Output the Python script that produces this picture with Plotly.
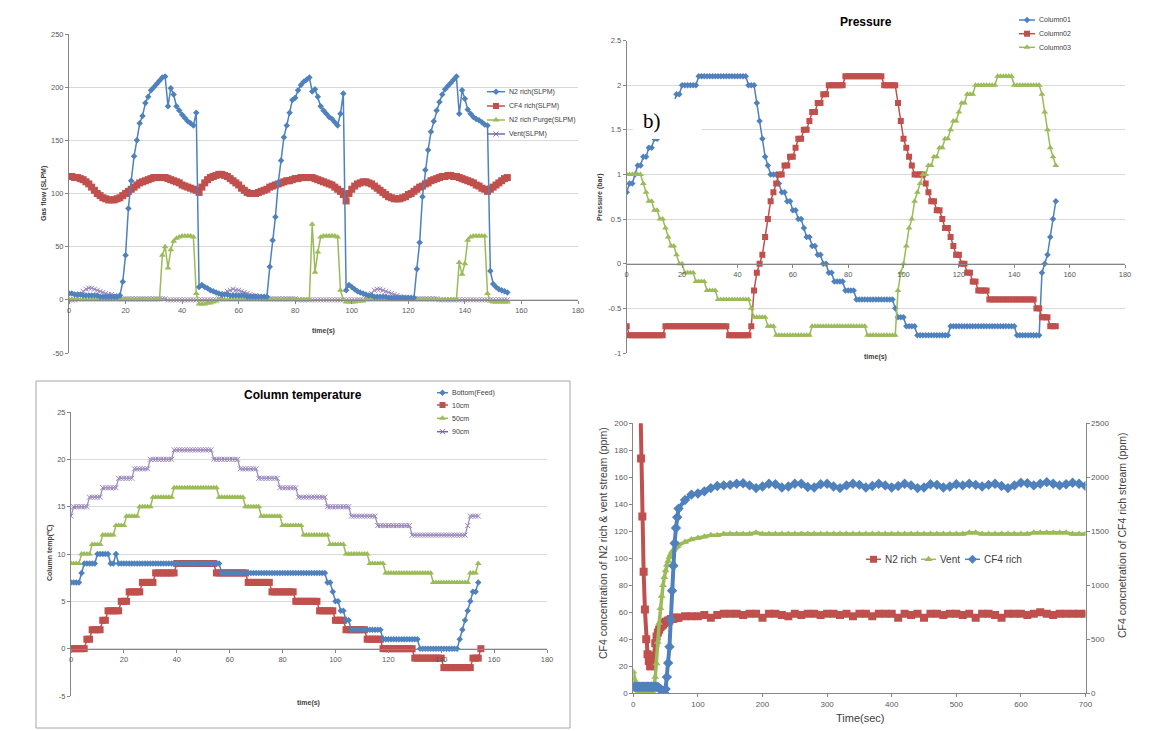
import plotly.graph_objects as go

W, H = 1171, 731
FONT = "Liberation Sans"
BLUE, RED, GREEN, PURPLE = "#4F81BD", "#C0504D", "#9BBB59", "#8064A2"

# ---------------- Panel 1: Gas flow (SLPM), t = 0..155 s ----------------
flow_time = list(range(156))
n2_rich = [6, 6, 5, 5, 5, 4, 4, 4, 4, 4, 4, 3, 3, 3, 3, 3, 3, 3,
           4, 17, 42, 86, 112, 135, 150, 166, 173, 185, 191, 197, 200, 203, 206, 209, 210, 182,
           199, 193, 182, 178, 174, 171, 168, 166, 164, 176,
           12, 14, 12, 11, 9, 8, 7, 6, 5, 5, 5, 4, 4, 4, 4, 4, 4, 3, 3, 3, 3, 3, 3, 3, 3,
           31, 56, 78, 110, 131, 153, 164, 176, 188, 190, 197, 202, 205, 207, 209, 196, 198, 191,
           182, 178, 175, 172, 170, 167, 164, 175, 194,
           9, 14, 12, 10, 8, 7, 6, 5, 4, 4, 3, 3, 3, 3, 3, 2, 2, 2, 2, 2, 2, 2, 2, 2, 2,
           29, 54, 97, 122, 141, 158, 168, 178, 186, 193, 198, 201, 204, 207, 210, 175, 197, 189,
           179, 175, 172, 170, 169, 167, 165, 164, 27, 15, 12, 10, 9, 8, 7]
cf4_rich = [116, 116, 115, 115, 114, 113, 111, 109, 106, 103, 100, 98, 96, 95, 94,
            94, 94, 95, 96, 98, 100, 102, 104, 106, 108, 110, 111, 112, 113, 114, 115, 115, 115,
            115, 115, 114, 113, 112, 111, 110, 108, 107, 106, 105, 104, 103, 101,
            106, 110, 113, 115, 116, 117, 118, 118,
            117, 116, 114, 112, 110, 108, 105, 103, 101, 100, 100,
            100, 101, 102, 103, 104, 106, 107, 108, 109, 110, 111, 112, 112, 113, 114, 114, 115, 115,
            115, 115, 115, 114, 113, 112, 111, 110, 109, 108, 106, 104, 102, 99, 93,
            100, 104, 107, 109, 110, 111, 111, 110,
            109, 107, 105, 103, 101, 99, 97, 96, 95, 95,
            95, 96, 97, 99, 100, 102, 104, 106, 107, 109, 110, 112, 113, 114, 115, 116, 116, 117, 117,
            116, 116, 115, 114, 113, 112, 111, 110, 108, 107, 105, 104, 102,
            104, 106, 108, 110, 112, 114, 115]
n2_purge = [0, 0, 0, 0, 0, 0, 0, 0, 0, 0, 0, 0, 0, 0, 0, 0, 0, 0, 0, 0, 0, 0, 0, 0, 0, 0, 0, 0, 0, 0, 0, 0, 0,
            42, 50, 30, 47, 55, 58, 59, 60, 60, 60, 60, 59, 6, -4, -4, -4, -3, -3, -2, -1,
            0, 0, 0, 0, 0, 0, 0, 0, 0, 0, 0, 0, 0, 0, 0, 0, 0, 0, 0, 0, 0, 0, 0, 0, 0, 0, 0, 0, 0, 0, 0, 0, 0,
            71, 26, 45, 59, 60, 60, 60, 60, 60, 59, 9, 0, -2, -2, -2, -2, -1, -1, -1,
            0, 0, 0, 0, 0, 0, 0, 0, 0, 0, 0, 0, 0, 0, 0, 0, 0, 0, 0, 0, 0, 0, 0, 0, 0, 0, 0, 0, 0, 0, 0, 0, 0,
            35, 24, 34, 56, 59, 60, 60, 60, 60, 60, 6, -1, -2, -2, -2, -2, -2, -2]
vent = [0, 0, 0,
        2, 5, 8, 10, 11, 11, 10, 9, 8, 7, 6, 5, 5, 4, 3, 2, 1,
        1, 1, 1, 1, 1, 1, 1, 1, 1, 1, 1, 1, 1, 1, 1,
        0, 0, 0, 0, 0, 0, 0, 0, 0, 0, 0, 0, 0, 0, 0, 0, 0, 0,
        1, 3, 6, 8, 9, 10, 9, 9, 8, 7, 6, 5, 4, 4, 3, 2, 1, 1,
        1, 1, 1, 1, 1, 1, 1, 1, 1, 1,
        0, 0, 0, 0, 0, 0, 0, 0, 0, 0, 0, 0, 0, 0, 0, 0, 0, 0, 0, 0, 0, 0, 0, 0,
        1, 3, 6, 9, 10, 10, 9, 8, 7, 6, 5, 4, 3, 2, 2, 1,
        1, 1, 1, 1, 1, 1, 1, 1, 1, 1,
        0, 0, 0, 0, 0, 0, 0, 0, 0, 0, 0, 0, 0, 0, 0, 0, 0, 0, 0, 0, 0, 0, 0, 0, 0]

# ---------------- Panel 2: Pressure (bar), step runs (value, seconds) ----------------
column01_runs = [(0.8, 1), (0.9, 2), (1.0, 1), (1.1, 2), (1.2, 2), (1.3, 2), (1.4, 2), (1.5, 2), (1.6, 2),
                 (1.7, 1), (1.8, 1), (1.9, 2), (2.0, 6), (2.1, 18), (2.0, 3), (1.8, 1), (1.6, 1), (1.4, 1),
                 (1.2, 1), (1.1, 1), (1.0, 3), (0.9, 1), (0.8, 2), (0.7, 2), (0.6, 2), (0.5, 2), (0.4, 1),
                 (0.3, 2), (0.2, 2), (0.1, 2), (0.0, 2), (-0.1, 2), (-0.2, 4), (-0.3, 4), (-0.4, 14),
                 (-0.5, 1), (-0.6, 3), (-0.7, 4), (-0.8, 12), (-0.7, 24), (-0.8, 9), (-0.1, 1), (0.0, 1),
                 (0.1, 1), (0.3, 1), (0.5, 1), (0.7, 1)]
column02_runs = [(-0.7, 1), (-0.8, 13), (-0.7, 23), (-0.8, 8), (-0.7, 1), (-0.3, 1), (-0.1, 1), (0.0, 1),
                 (0.1, 1), (0.3, 1), (0.5, 1), (0.7, 1), (0.8, 1), (0.9, 1), (1.0, 2), (1.1, 2), (1.2, 2),
                 (1.3, 1), (1.4, 2), (1.5, 2), (1.6, 1), (1.7, 2), (1.8, 2), (1.9, 2), (2.0, 6), (2.1, 14),
                 (2.0, 5), (1.8, 1), (1.6, 1), (1.4, 1), (1.3, 1), (1.2, 1), (1.1, 1), (1.0, 4), (0.9, 1),
                 (0.8, 1), (0.7, 2), (0.6, 2), (0.5, 1), (0.4, 2), (0.3, 1), (0.2, 1), (0.1, 2), (0.0, 2),
                 (-0.1, 2), (-0.2, 2), (-0.3, 4), (-0.4, 17), (-0.5, 2), (-0.6, 3), (-0.7, 3)]
column03_runs = [(1.0, 6), (0.9, 1), (0.8, 1), (0.7, 2), (0.6, 2), (0.5, 2), (0.4, 1), (0.3, 1), (0.2, 2),
                 (0.1, 1), (0.0, 2), (-0.1, 4), (-0.2, 4), (-0.3, 4), (-0.4, 12), (-0.5, 1), (-0.6, 5),
                 (-0.7, 3), (-0.8, 13), (-0.7, 20), (-0.8, 11), (-0.3, 1), (-0.1, 1), (0.0, 1), (0.2, 1),
                 (0.4, 1), (0.5, 1), (0.7, 1), (0.8, 1), (0.9, 1), (1.0, 2), (1.1, 2), (1.2, 2), (1.3, 2),
                 (1.4, 2), (1.5, 1), (1.6, 2), (1.7, 1), (1.8, 2), (1.9, 3), (2.0, 8), (2.1, 6), (2.0, 10),
                 (1.9, 1), (1.7, 1), (1.5, 1), (1.3, 1), (1.2, 1), (1.1, 1)]

# ---------------- Panel 3: Column temperature (C), step runs ----------------
bottom_feed_runs = [(7, 4), (8, 1), (9, 5), (10, 5), (9, 2), (10, 1), (9, 39), (8, 40), (7, 2), (6, 1),
                    (5, 2), (4, 2), (3, 2), (2, 12), (1, 14), (0, 15), (1, 1), (2, 1), (3, 1), (4, 1),
                    (5, 1), (6, 2), (7, 1)]
cm10_runs = [(0, 6), (1, 2), (2, 4), (3, 2), (4, 5), (5, 3), (6, 5), (7, 5), (8, 8), (9, 15), (8, 12),
             (7, 9), (6, 9), (5, 9), (4, 6), (3, 4), (2, 8), (1, 6), (0, 12), (-1, 11), (-2, 11), (-1, 3),
             (0, 1)]
cm50_runs = [(9, 4), (10, 4), (11, 4), (12, 5), (13, 4), (14, 5), (15, 5), (16, 8), (17, 17), (16, 10),
             (15, 6), (14, 8), (13, 8), (12, 10), (11, 6), (10, 9), (9, 6), (8, 18), (7, 14), (8, 3), (9, 1)]
cm90_runs = [(14, 1), (15, 6), (16, 5), (17, 6), (18, 6), (19, 6), (20, 9), (21, 15), (20, 10), (19, 7),
             (18, 8), (17, 7), (16, 11), (15, 9), (14, 10), (13, 13), (12, 21), (13, 1), (14, 4)]

# ---------------- Panel 4: CF4 concentration (ppm) vs time (sec) ----------------
conc_time = list(range(0, 72, 2)) + list(range(80, 710, 10))
conc_n2_rich = [260, 260, 260, 260, 260, 240, 174, 131, 90, 62, 40, 29, 24, 20, 20, 23, 28, 37, 42, 45,
                47, 49, 50, 51, 52, 53, 53, 54, 54, 55, 55, 55, 56, 56, 56, 56,
                57, 57, 57, 58, 56, 58, 59, 59, 59, 58, 59, 59, 56, 59, 59, 58, 57, 59, 58, 59,
                59, 58, 59, 59, 58, 59, 57, 59, 59, 57, 59, 59, 59, 56, 59, 58, 59, 56, 59, 59,
                58, 59, 59, 58, 59, 56, 59, 59, 58, 56, 59, 59, 59, 58, 59, 60, 59, 58, 59, 59,
                59, 59, 59]
conc_vent = [16, 10, 5, 2, 1, 0, 0, 0, 0, 0, 0, 0, 0, 0, 0, 1, 4, 12, 22, 38, 52, 63, 72, 80, 86, 91,
             95, 98, 101, 103, 105, 106, 107, 108, 109, 110,
             112, 114, 115, 116, 117, 117, 118, 118, 118, 118, 118, 119, 118, 118, 118, 118, 118, 118,
             118, 118, 118, 118, 118, 118, 118, 118, 118, 118, 118, 118, 118, 118, 118, 118, 118, 118,
             118, 118, 118, 118, 118, 118, 118, 118, 119, 119, 118, 118, 118, 118, 118, 118, 118, 118,
             119, 119, 119, 119, 119, 119, 118, 118, 118]
conc_cf4_rich = [62, 62, 61, 61, 61, 61, 60, 60, 60, 60, 60, 60, 60, 60, 60, 60, 60, 60,
                 60, 58, 50, 40, 25, 12, 3, 40, 150, 280, 430, 680, 950, 1180, 1390, 1530, 1630, 1710,
                 1790, 1840, 1850, 1870, 1900, 1920, 1925, 1930, 1940, 1945, 1925, 1900, 1915, 1940, 1935,
                 1905, 1915, 1940, 1940, 1910, 1905, 1935, 1940, 1915, 1900, 1925, 1940, 1930, 1905, 1920,
                 1940, 1925, 1905, 1920, 1940, 1925, 1900, 1905, 1935, 1930, 1905, 1915, 1935, 1925, 1940,
                 1930, 1915, 1930, 1940, 1920, 1900, 1925, 1950, 1945, 1925, 1940, 1955, 1940, 1925, 1935,
                 1950, 1940, 1920]


def expand(runs):
    out = []
    for v, n in runs:
        out += [v] * n
    return out


def X(p):
    return p / W


def Y(p):
    return 1 - p / H


def series(x, y, color, symbol, size, xa, ya, lw=1.5, name=None):
    if symbol.startswith("x-thin"):
        mk = dict(symbol=symbol, size=size, color=color, line=dict(color=color, width=1))
    else:
        mk = dict(symbol=symbol, size=size, color=color, line=dict(width=0))
    return go.Scatter(x=x, y=y, mode="lines+markers", name=name, line=dict(color=color, width=lw),
                      marker=mk, xaxis=xa, yaxis=ya, showlegend=False, cliponaxis=True)


fig = go.Figure()

# Panel 1
fig.add_trace(series(flow_time, vent, "#9A86BC", "x-thin", 5, "x", "y", 1.2, "Vent(SLPM)"))
fig.add_trace(series(flow_time, n2_purge, GREEN, "triangle-up", 6, "x", "y", 1.5, "N2 rich Purge(SLPM)"))
fig.add_trace(series(flow_time, cf4_rich, RED, "square", 7, "x", "y", 1.5, "CF4 rich(SLPM)"))
fig.add_trace(series(flow_time, n2_rich, BLUE, "diamond", 5, "x", "y", 1.5, "N2 rich(SLPM)"))

# Panel 2
c1, c2, c3 = expand(column01_runs), expand(column02_runs), expand(column03_runs)
fig.add_trace(series(list(range(len(c1))), c1, BLUE, "diamond", 5, "x2", "y2", 1.5, "Column01"))
fig.add_trace(series(list(range(len(c2))), c2, RED, "square", 6, "x2", "y2", 1.5, "Column02"))
fig.add_trace(series(list(range(len(c3))), c3, GREEN, "triangle-up", 6, "x2", "y2", 1.5, "Column03"))

# Panel 3
b, r10, g50, p90 = expand(bottom_feed_runs), expand(cm10_runs), expand(cm50_runs), expand(cm90_runs)
fig.add_trace(series(list(range(len(p90))), p90, "#9A86BC", "x-thin", 5, "x3", "y3", 1.2, "90cm"))
fig.add_trace(series(list(range(len(g50))), g50, GREEN, "triangle-up", 6, "x3", "y3", 1.5, "50cm"))
fig.add_trace(series(list(range(len(r10))), r10, RED, "square", 7, "x3", "y3", 1.5, "10cm"))
fig.add_trace(series(list(range(len(b))), b, BLUE, "diamond", 5, "x3", "y3", 1.5, "Bottom(Feed)"))

# Panel 4
fig.add_trace(series(conc_time, conc_n2_rich, RED, "square", 8, "x4", "y4", 4, "N2 rich"))
fig.add_trace(series(conc_time, conc_vent, GREEN, "triangle-up", 7, "x4", "y4", 3.5, "Vent"))
fig.add_trace(series(conc_time, conc_cf4_rich, BLUE, "diamond", 8, "x4", "y6", 4, "CF4 rich"))

# Custom legends drawn on a pixel overlay axis
legend_items = [
    (487, 505, 91.7, BLUE, "diamond", 5, "N2 rich(SLPM)", 7),
    (487, 505, 106, RED, "square", 6, "CF4 rich(SLPM)", 7),
    (487, 505, 120, GREEN, "triangle-up", 6, "N2 rich Purge(SLPM)", 7),
    (487, 505, 134, "#7D64A8", "x-thin", 5, "Vent(SLPM)", 7),
    (1019, 1035, 20, BLUE, "diamond", 5, "Column01", 7),
    (1019, 1035, 33.7, RED, "square", 6, "Column02", 7),
    (1019, 1035, 47.3, GREEN, "triangle-up", 6, "Column03", 7),
    (437, 448, 392.7, BLUE, "diamond", 5, "Bottom(Feed)", 7),
    (437, 448, 405, RED, "square", 6, "10cm", 7),
    (437, 448, 418.3, GREEN, "triangle-up", 6, "50cm", 7),
    (437, 448, 431.7, "#7D64A8", "x-thin", 5, "90cm", 7),
    (866, 881, 559.3, RED, "square", 7, "N2 rich", 10),
    (921, 936, 559.3, GREEN, "triangle-up", 7, "Vent", 10),
    (965, 980, 559.3, BLUE, "diamond", 7, "CF4 rich", 10),
]
annotations = []
for x0, x1, yy, col, sym, sz, txt, fs in legend_items:
    fig.add_trace(go.Scatter(x=[x0, x1], y=[yy, yy], mode="lines", line=dict(color=col, width=1.5),
                             xaxis="x5", yaxis="y5", showlegend=False, hoverinfo="skip"))
    mk = dict(symbol=sym, size=sz, color=col, line=dict(color=col, width=1 if sym.startswith("x-thin") else 0))
    fig.add_trace(go.Scatter(x=[(x0 + x1) / 2], y=[yy], mode="markers", marker=mk,
                             xaxis="x5", yaxis="y5", showlegend=False, hoverinfo="skip"))
    annotations.append(dict(text=txt, x=X(x1 + 2), y=Y(yy), xref="paper", yref="paper", showarrow=False,
                            xanchor="left", yanchor="middle", font=dict(size=fs, color="#404040", family=FONT)))


def ann(text, x, y, size, bold=False, angle=0, color="#404040", family=FONT):
    return dict(text=f"<b>{text}</b>" if bold else text, x=X(x), y=Y(y), xref="paper", yref="paper",
                showarrow=False, textangle=angle, xanchor="center", yanchor="middle",
                font=dict(size=size, color=color, family=family))


annotations += [
    ann("Gas flow (SLPM)", 44, 193, 7, True, -90),
    ann("time(s)", 323, 331, 7, True),
    ann("Pressure", 866, 22, 12, True, 0, "#000000"),
    ann("Pressure (bar)", 600, 197, 7, True, -90),
    ann("time(s)", 875, 357, 7, True),
    ann("Column temperature", 303, 395, 12, True, 0, "#000000"),
    ann("Column temp(℃)", 50, 553, 7, True, -90),
    ann("time(s)", 308, 703, 7, True),
    ann("CF4 concentration of N2 rich &amp; vent stream (ppm)", 603, 543, 10.5, False, -90),
    ann("CF4 concnetration of CF4 rich stream (ppm)", 1122, 536, 10.5, False, -90),
    ann("Time(sec)", 860, 718, 11, False),
    ann("b)", 652, 121, 21, False, 0, "#000000", "Liberation Serif"),
]

axis_style = dict(showline=True, linecolor="#868686", linewidth=1, ticks="outside", ticklen=3,
                  tickcolor="#868686", zeroline=False, tickfont=dict(size=7.5, color="#595959", family=FONT))
axis_style4 = {**axis_style, "tickfont": dict(size=8, color="#595959", family=FONT)}
grid = dict(showgrid=True, gridcolor="#D9D9D9", gridwidth=1)

fig.update_layout(
    width=W, height=H, margin=dict(l=0, r=0, t=0, b=0, pad=0, autoexpand=False),
    paper_bgcolor="white", plot_bgcolor="rgba(0,0,0,0)", showlegend=False,
    font=dict(family=FONT, color="#404040"),
    xaxis=dict(domain=[X(69), X(578)], range=[0, 180], tickvals=list(range(0, 181, 20)),
               anchor="free", position=Y(299.8), showgrid=False, **axis_style),
    yaxis=dict(domain=[Y(353), Y(34)], range=[-50, 250], tickvals=[-50, 0, 50, 100, 150, 200, 250],
               ticktext=["-50", "0", "50", "100", "150", "200", "250"], anchor="x", **grid, **axis_style),
    xaxis2=dict(domain=[X(626.7), X(1125)], range=[0, 180], tickvals=list(range(0, 181, 20)),
                anchor="free", position=Y(263.7), showgrid=False, **axis_style),
    yaxis2=dict(domain=[Y(353), Y(40.6)], range=[-1, 2.5],
                tickvals=[-1, -0.5, 0, 0.5, 1, 1.5, 2, 2.5],
                ticktext=["-1", "-0.5", "0", "0.5", "1", "1.5", "2", "2.5"], anchor="x2", **grid, **axis_style),
    xaxis3=dict(domain=[X(71), X(547)], range=[0, 180], tickvals=list(range(0, 181, 20)),
                anchor="free", position=Y(648.7), showgrid=False, **axis_style),
    yaxis3=dict(domain=[Y(696), Y(412)], range=[-5, 25], tickvals=[-5, 0, 5, 10, 15, 20, 25],
                ticktext=["-5", "0", "5", "10", "15", "20", "25"], anchor="x3", **grid, **axis_style),
    xaxis4=dict(domain=[X(633.3), X(1085.5)], range=[0, 700], tickvals=list(range(0, 701, 100)),
                anchor="y4", showgrid=False, **axis_style4),
    yaxis4=dict(domain=[Y(693.3), Y(423.3)], range=[0, 200], tickvals=list(range(0, 201, 20)),
                anchor="x4", showgrid=False, **axis_style4),
    yaxis6=dict(overlaying="y4", side="right", anchor="x4", range=[0, 2500], tickvals=list(range(0, 2501, 500)),
                showgrid=False, **axis_style4),
    xaxis5=dict(domain=[0, 1], range=[0, W], visible=False, anchor="y5", fixedrange=True),
    yaxis5=dict(domain=[0, 1], range=[H, 0], visible=False, anchor="x5", fixedrange=True),
    annotations=annotations,
    shapes=[
        dict(type="rect", xref="paper", yref="paper", x0=X(36), x1=X(570), y0=Y(728), y1=Y(381),
             line=dict(color="#A6A6A6", width=1), fillcolor="rgba(0,0,0,0)", layer="below"),
        dict(type="rect", xref="paper", yref="paper", x0=X(633), x1=X(702), y0=Y(139), y1=Y(99),
             line=dict(width=0), fillcolor="white", layer="above"),
    ],
)

fig.write_html("out.html", config={"displayModeBar": False},
               post_script="document.body.style.margin='0px';document.body.style.overflow='hidden';")
